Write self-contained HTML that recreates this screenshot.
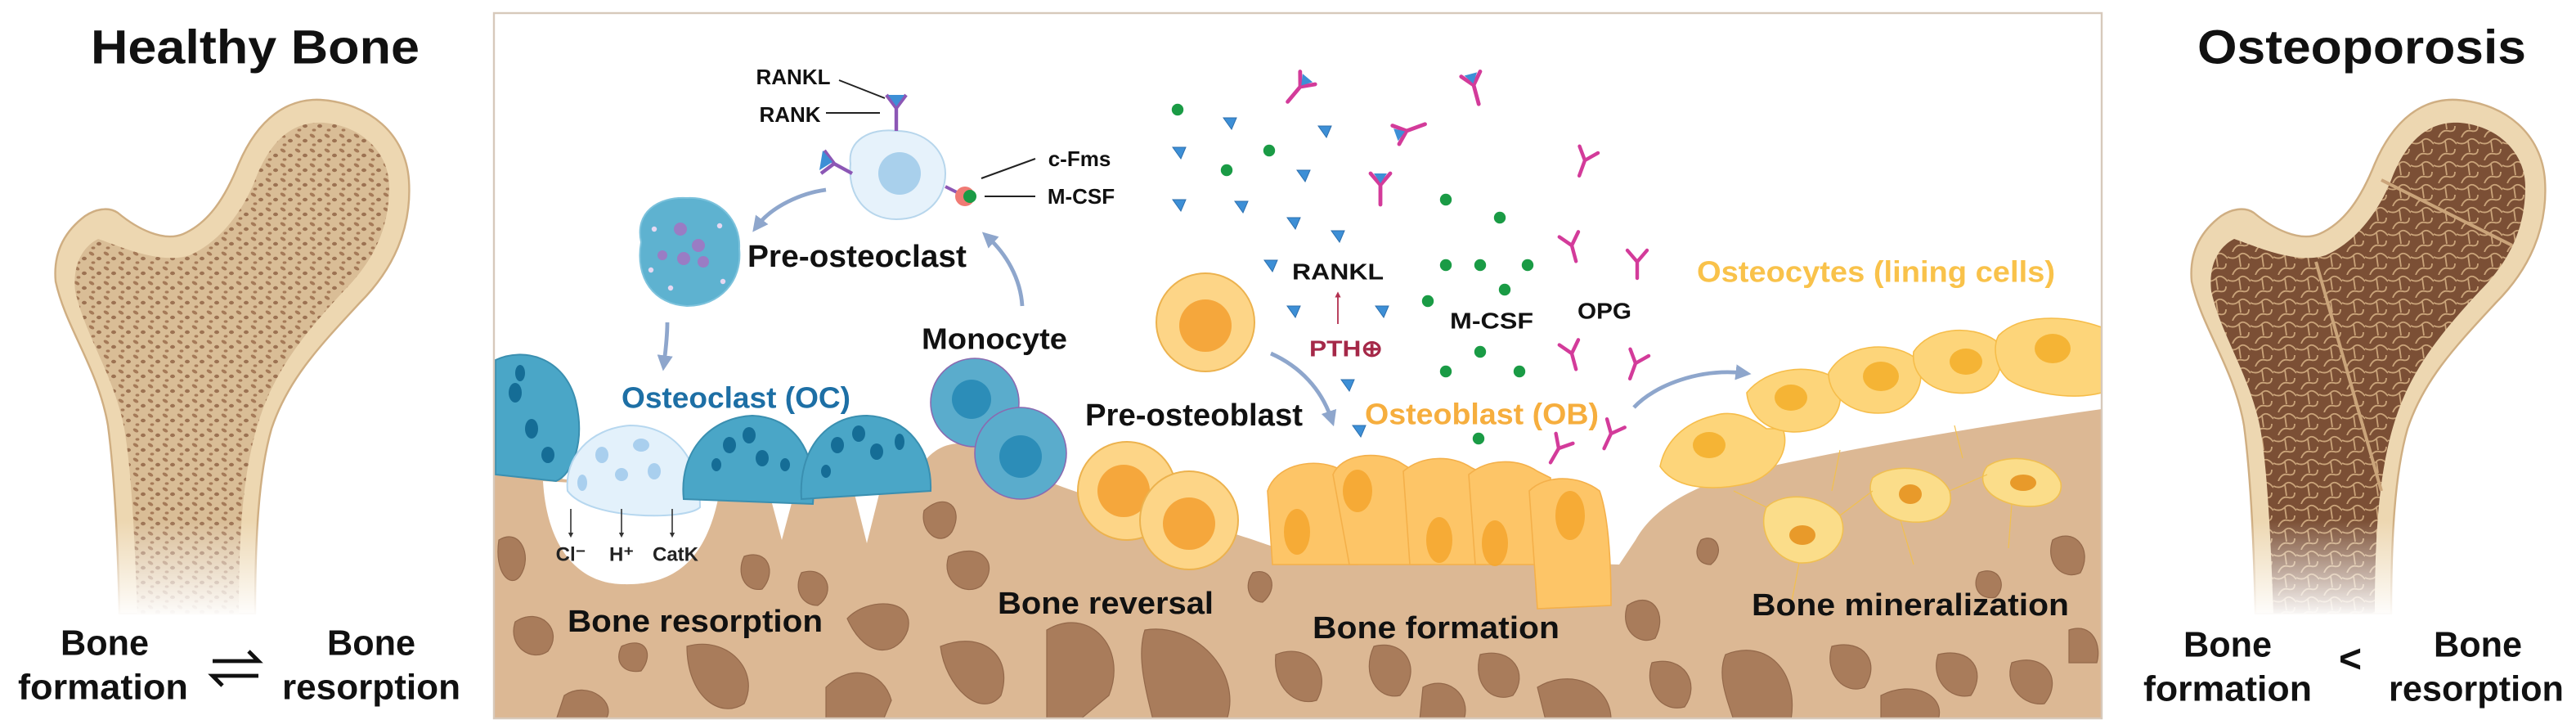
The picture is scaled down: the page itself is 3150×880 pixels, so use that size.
<!DOCTYPE html>
<html><head><meta charset="utf-8"><style>
html,body{margin:0;padding:0;background:#fff;}
svg{display:block;}
text{font-family:"Liberation Sans Narrow","Liberation Sans",sans-serif;font-weight:bold;dominant-baseline:central;text-anchor:middle;}
</style></head><body>
<svg width="3150" height="880" viewBox="0 0 1575 440" xmlns="http://www.w3.org/2000/svg">
<defs>
<pattern id="trab" width="9" height="9" patternUnits="userSpaceOnUse">
<rect width="9" height="9" fill="#d9bd96"/>
<ellipse cx="2" cy="2" rx="1.8" ry="1" fill="#a57a58" transform="rotate(30 2 2)"/>
<ellipse cx="6.5" cy="5" rx="1.5" ry="1.1" fill="#9c7252"/>
<ellipse cx="3" cy="7.5" rx="1.2" ry="0.8" fill="#a57a58"/>
</pattern>
<pattern id="poro" width="14" height="14" patternUnits="userSpaceOnUse">
<rect width="14" height="14" fill="#7b4f35"/>
<path d="M0 3 Q4 5 7 2 T14 4 M3 14 Q5 9 9 10 T13 7 M7 2 L8 9" stroke="#caa47a" stroke-width="0.9" fill="none"/>
</pattern>
<linearGradient id="fade" x1="0" y1="0" x2="0" y2="1">
<stop offset="0" stop-color="#fff" stop-opacity="0"/><stop offset="1" stop-color="#fff" stop-opacity="1"/>
</linearGradient>
<marker id="ah" viewBox="0 0 10 10" refX="5" refY="5" markerWidth="4" markerHeight="4" orient="auto"><path d="M0 0 L10 5 L0 10 Z" fill="#8ea6cc"/></marker>
<marker id="ahr" viewBox="0 0 10 10" refX="5" refY="5" markerWidth="4" markerHeight="4" orient="auto"><path d="M0 0 L10 5 L0 10 Z" fill="#b2304f"/></marker>
<marker id="ahk" viewBox="0 0 10 10" refX="5" refY="5" markerWidth="4" markerHeight="4" orient="auto"><path d="M0 0 L10 5 L0 10 Z" fill="#333"/></marker>
<g id="tri"><path d="M-4 -3 L4 -3 L1 4 Z" fill="#3d8fd6" stroke="#2c6fae" stroke-width="0.5"/></g>
<g id="dot"><circle r="3.6" fill="#1a9b45"/></g>
<g id="ypk"><path d="M0 10 L0 0 M0 0 L-6 -7 M0 0 L6 -7" stroke="#d33b9a" stroke-width="2.2" fill="none" stroke-linecap="round"/></g>
<g id="ybound"><path d="M0 12 L0 0 M0 0 L-6 -7 M0 0 L6 -7" stroke="#d33b9a" stroke-width="2.4" fill="none" stroke-linecap="round"/><path d="M-4 -7 L4 -7 L0 -1 Z" fill="#3d8fd6"/></g>
</defs>

<!-- LEFT: Healthy bone -->
<text x="156" y="29" font-size="29" textLength="201" lengthAdjust="spacingAndGlyphs" fill="#111">Healthy Bone</text>
<g>
<path d="M73,375 C72,330 70,290 66,260 C60,225 40,200 34,172 C32,150 44,138 52,132 C58,128 66,126 72,130 C84,140 100,148 112,143 C128,136 138,120 146,100 C158,72 176,60 196,61 C226,63 248,82 250,110 C252,140 240,165 220,185 C195,212 176,232 166,262 C158,290 156,330 156,375 Z" fill="#edd7b1" stroke="#cfae82" stroke-width="1.2"/>
<path d="M84,375 C82,320 80,285 76,262 C70,230 52,205 46,178 C44,160 52,150 60,146 C72,150 98,162 116,156 C134,148 148,130 156,110 C166,84 180,74 198,75 C222,77 238,94 238,114 C238,140 228,160 210,178 C186,204 168,226 158,258 C148,290 146,330 146,375 Z" fill="url(#trab)"/>
<rect x="20" y="318" width="250" height="60" fill="url(#fade)"/>
</g>
<text x="64" y="393" font-size="22" textLength="54" lengthAdjust="spacingAndGlyphs" fill="#111">Bone</text>
<text x="63" y="420" font-size="22" textLength="104" lengthAdjust="spacingAndGlyphs" fill="#111">formation</text>
<text x="227" y="393" font-size="22" textLength="54" lengthAdjust="spacingAndGlyphs" fill="#111">Bone</text>
<text x="227" y="420" font-size="22" textLength="109" lengthAdjust="spacingAndGlyphs" fill="#111">resorption</text>
<path d="M130 404 L158 404 L152 398 M158 413 L130 413 L136 419" stroke="#111" stroke-width="2.4" fill="none"/>

<!-- RIGHT: Osteoporosis -->
<text x="1444" y="29" font-size="29" textLength="201" lengthAdjust="spacingAndGlyphs" fill="#111">Osteoporosis</text>
<g transform="translate(1306,0)">
<path d="M73,375 C72,330 70,290 66,260 C60,225 40,200 34,172 C32,150 44,138 52,132 C58,128 66,126 72,130 C84,140 100,148 112,143 C128,136 138,120 146,100 C158,72 176,60 196,61 C226,63 248,82 250,110 C252,140 240,165 220,185 C195,212 176,232 166,262 C158,290 156,330 156,375 Z" fill="#edd7b1" stroke="#cfae82" stroke-width="1.2"/>
<path d="M84,375 C82,320 80,285 76,262 C70,230 52,205 46,178 C44,160 52,150 60,146 C72,150 98,162 116,156 C134,148 148,130 156,110 C166,84 180,74 198,75 C222,77 238,94 238,114 C238,140 228,160 210,178 C186,204 168,226 158,258 C148,290 146,330 146,375 Z" fill="url(#poro)"/>
<path d="M150 110 L230 150 M110 160 L150 300" stroke="#caa47a" stroke-width="2" fill="none"/>
<rect x="20" y="318" width="250" height="60" fill="url(#fade)"/>
</g>
<text x="1362" y="394" font-size="22" textLength="54" lengthAdjust="spacingAndGlyphs" fill="#111">Bone</text>
<text x="1362" y="421" font-size="22" textLength="103" lengthAdjust="spacingAndGlyphs" fill="#111">formation</text>
<text x="1515" y="394" font-size="22" textLength="54" lengthAdjust="spacingAndGlyphs" fill="#111">Bone</text>
<text x="1514" y="421" font-size="22" textLength="107" lengthAdjust="spacingAndGlyphs" fill="#111">resorption</text>
<text x="1437" y="403" font-size="24" fill="#111">&lt;</text>

<!-- MIDDLE PANEL -->
<svg x="302" y="8" width="983" height="431" viewBox="302 8 983 431" overflow="hidden">
<rect x="302" y="8" width="983" height="431" fill="#fff"/>
<!-- bone ground -->
<path d="M302,289 L340,292 C360,296 400,294 430,298 L470,300 L478,330 L486,300 L522,300 L530,332 L538,300 L560,290 C570,270 590,262 620,285 C650,300 700,315 740,322 C770,330 780,336 800,340 L990,345 L1000,330 C1010,312 1030,300 1060,290 C1120,276 1200,262 1285,250 L1285,440 L302,440 Z" fill="#dcb894"/>
<!-- resorption pit -->
<path d="M332,294 C334,330 350,356 380,357 C410,358 432,345 440,300 Z" fill="#fff"/>
<!-- bone blobs -->
<g fill="#a97c5b" stroke="#93684a" stroke-width="0.6">
<path d="M305,330 C318,322 326,340 318,352 C312,360 302,350 305,330Z"/>
<path d="M315,380 C330,370 345,385 335,398 C325,405 310,395 315,380Z"/>
<path d="M345,425 C360,415 378,430 370,440 L340,440 Z"/>
<path d="M380,395 C395,388 400,400 392,410 C382,412 375,405 380,395Z"/>
<path d="M420,395 C445,388 465,410 455,430 C440,440 420,425 420,395Z"/>
<path d="M455,340 C470,335 475,350 466,360 C455,362 450,350 455,340Z"/>
<path d="M490,350 C505,345 512,362 500,370 C490,370 485,360 490,350Z"/>
<path d="M505,420 C520,405 540,410 545,428 L540,440 L505,440 Z"/>
<path d="M518,378 C530,365 560,365 555,385 C550,400 530,405 518,378Z"/>
<path d="M565,312 C578,300 590,310 582,325 C575,335 562,325 565,312Z"/>
<path d="M580,340 C600,330 612,345 600,358 C590,365 575,355 580,340Z"/>
<path d="M575,395 C600,385 620,400 612,425 C600,440 578,420 575,395Z"/>
<path d="M640,385 C665,370 690,395 678,425 L660,440 L640,440 Z"/>
<path d="M700,385 C730,380 760,410 750,440 L705,440 C700,420 695,400 700,385Z"/>
<path d="M766,350 C778,346 782,360 772,368 C764,368 760,358 766,350Z"/>
<path d="M780,400 C800,392 815,410 805,428 C792,432 778,420 780,400Z"/>
<path d="M840,395 C860,390 870,410 856,425 C842,428 832,412 840,395Z"/>
<path d="M870,420 C885,412 900,425 895,440 L868,440 Z"/>
<path d="M905,400 C925,395 935,412 925,425 C912,430 900,418 905,400Z"/>
<path d="M940,420 C960,408 985,418 985,440 L945,440 Z"/>
<path d="M995,370 C1010,360 1020,375 1012,390 C1002,395 990,385 995,370Z"/>
<path d="M1010,405 C1030,400 1040,418 1030,432 C1015,436 1005,420 1010,405Z"/>
<path d="M1040,330 C1050,325 1055,338 1046,345 C1038,345 1035,338 1040,330Z"/>
<path d="M1055,400 C1080,390 1100,410 1095,440 L1060,440 C1055,425 1050,412 1055,400Z"/>
<path d="M1120,395 C1140,390 1150,405 1140,420 C1128,425 1115,412 1120,395Z"/>
<path d="M1150,425 C1170,415 1190,425 1185,440 L1150,440 Z"/>
<path d="M1185,400 C1205,395 1215,410 1205,425 C1192,428 1180,415 1185,400Z"/>
<path d="M1230,405 C1250,398 1262,415 1250,430 C1238,432 1225,420 1230,405Z"/>
<path d="M1255,330 C1268,322 1280,335 1272,350 C1262,355 1250,345 1255,330Z"/>
<path d="M1265,385 C1280,380 1285,395 1282,405 L1265,405 Z"/>
<path d="M1210,350 C1222,345 1228,358 1220,365 C1210,367 1205,358 1210,350Z"/>
</g>

<!-- osteocyte layer (mineralization) -->
<g fill="#fde08a" stroke="#f2c04e" stroke-width="0.8" opacity="0.95">
<path d="M1080,310 C1090,300 1115,302 1125,315 C1132,330 1118,345 1100,344 C1085,342 1074,325 1080,310Z"/>
<path d="M1145,292 C1158,282 1185,285 1192,300 C1196,315 1180,322 1162,318 C1148,314 1140,302 1145,292Z"/>
<path d="M1215,285 C1228,276 1255,280 1260,295 C1262,308 1245,312 1230,308 C1215,304 1208,294 1215,285Z"/>
</g>
<g fill="#e89a2a"><ellipse cx="1102" cy="327" rx="8" ry="6"/><ellipse cx="1168" cy="302" rx="7" ry="6"/><ellipse cx="1237" cy="295" rx="8" ry="5"/></g>
<g stroke="#f2c04e" stroke-width="0.6" fill="none">
<path d="M1100 344 L1095 370 M1125 315 L1145 300 M1192 300 L1215 290 M1162 318 L1170 345 M1230 308 L1228 335 M1080 310 L1060 300 M1120 300 L1125 275 M1200 280 L1195 260"/>
</g>
<!-- lining cells -->
<g fill="#fdd57a" stroke="#f6bd4a" stroke-width="0.8">
<path d="M1015,285 C1018,270 1030,258 1048,254 C1060,250 1072,256 1080,262 L1090,262 C1095,275 1085,290 1070,295 C1050,300 1025,300 1015,285Z"/>
<path d="M1068,240 C1080,225 1105,222 1120,230 C1130,240 1125,258 1110,262 C1090,268 1070,260 1068,240Z"/>
<path d="M1118,228 C1128,210 1155,208 1170,218 C1180,230 1172,248 1155,252 C1135,255 1118,244 1118,228Z"/>
<path d="M1170,215 C1180,200 1205,198 1220,208 C1228,220 1222,238 1205,240 C1185,242 1168,232 1170,215Z"/>
<path d="M1222,205 C1235,192 1262,192 1285,200 L1285,240 C1265,245 1240,240 1228,232 C1220,225 1218,212 1222,205Z"/>
</g>
<g fill="#f5b435"><ellipse cx="1045" cy="272" rx="10" ry="8"/><ellipse cx="1095" cy="243" rx="10" ry="8"/><ellipse cx="1150" cy="230" rx="11" ry="9"/><ellipse cx="1202" cy="221" rx="10" ry="8"/><ellipse cx="1255" cy="213" rx="11" ry="9"/></g>

<!-- osteoblasts row -->
<g fill="#fdc567" stroke="#f4b04a" stroke-width="0.8">
<path d="M775,300 C780,285 800,280 815,285 L828,290 L830,345 L778,345 Z"/>
<path d="M815,290 C820,278 840,275 855,282 L868,290 L868,345 L825,345 Z"/>
<path d="M858,288 C870,278 888,278 900,286 L908,290 L908,345 L862,345 Z"/>
<path d="M898,290 C910,280 928,280 940,288 L948,292 L948,345 L902,345 Z"/>
<path d="M935,300 C945,290 965,290 978,300 C985,320 985,360 985,370 L940,372 Z"/>
</g>
<g fill="#f5a62e" opacity="0.85">
<ellipse cx="793" cy="325" rx="8" ry="14"/><ellipse cx="830" cy="300" rx="9" ry="13"/><ellipse cx="880" cy="330" rx="8" ry="14"/><ellipse cx="914" cy="332" rx="8" ry="14"/><ellipse cx="960" cy="315" rx="9" ry="15"/>
</g>

<!-- pre-osteoblasts -->
<g stroke="#ecb24e" stroke-width="1">
<circle cx="737" cy="197" r="30" fill="#fdd587"/><circle cx="737" cy="199" r="16" fill="#f5a73c" stroke="none"/>
<circle cx="689" cy="300" r="30" fill="#fdd587"/><circle cx="687" cy="300" r="16" fill="#f5a73c" stroke="none"/>
<circle cx="727" cy="318" r="30" fill="#fdd587"/><circle cx="727" cy="320" r="16" fill="#f5a73c" stroke="none"/>
</g>

<!-- osteoclasts -->
<g>
<path d="M303,290 L303,220 C320,212 345,218 352,245 C358,270 350,290 340,294 Z" fill="#4aa6c7" stroke="#3a8fb0"/>
<path d="M347,300 C345,280 360,262 385,260 C410,260 428,278 428,310 C420,318 360,318 347,300Z" fill="#e3f1fb" stroke="#b6d7ef"/>
<path d="M418,305 C415,275 435,255 460,254 C485,255 500,275 497,308 Z" fill="#4aa6c7" stroke="#3a8fb0"/>
<path d="M490,305 C488,275 505,254 530,254 C555,255 570,275 569,300 Z" fill="#4aa6c7" stroke="#3a8fb0"/>
</g>
<g fill="#156d96">
<ellipse cx="315" cy="240" rx="4" ry="6"/><ellipse cx="325" cy="262" rx="4" ry="6"/><ellipse cx="335" cy="278" rx="4" ry="5"/><ellipse cx="318" cy="228" rx="3" ry="5"/>
<ellipse cx="446" cy="272" rx="4" ry="5"/><ellipse cx="458" cy="266" rx="4" ry="5"/><ellipse cx="466" cy="280" rx="4" ry="5"/><ellipse cx="480" cy="284" rx="3" ry="4"/><ellipse cx="438" cy="284" rx="3" ry="4"/>
<ellipse cx="512" cy="272" rx="4" ry="5"/><ellipse cx="525" cy="265" rx="4" ry="5"/><ellipse cx="536" cy="276" rx="4" ry="5"/><ellipse cx="550" cy="270" rx="3" ry="5"/><ellipse cx="505" cy="288" rx="3" ry="4"/>
</g>
<g fill="#a9cfee"><ellipse cx="368" cy="278" rx="4" ry="5"/><ellipse cx="392" cy="272" rx="5" ry="4"/><ellipse cx="400" cy="288" rx="4" ry="5"/><ellipse cx="380" cy="290" rx="4" ry="4"/><ellipse cx="356" cy="295" rx="3" ry="5"/></g>
<!-- ion arrows -->
<g stroke="#333" stroke-width="0.8" marker-end="url(#ahk)"><path d="M349 311 L349 327"/><path d="M380 311 L380 327"/><path d="M411 311 L411 327"/></g>
<text x="349" y="339" font-size="12" font-weight="normal" fill="#222">Cl⁻</text>
<text x="380" y="339" font-size="12" font-weight="normal" fill="#222">H⁺</text>
<text x="413" y="339" font-size="12" font-weight="normal" fill="#222">CatK</text>

<!-- monocyte -->
<circle cx="596" cy="246" r="27" fill="#5aaccc" stroke="#8a6ab0" stroke-width="0.8"/>
<circle cx="624" cy="277" r="28" fill="#5aaccc" stroke="#8a6ab0" stroke-width="0.8"/>
<circle cx="594" cy="244" r="12" fill="#2c8db8"/><circle cx="624" cy="279" r="13" fill="#2c8db8"/>

<!-- pre-osteoclast -->
<path d="M392,148 C388,130 402,120 420,121 C440,120 453,135 452,152 C454,172 440,187 420,187 C400,186 388,170 392,148Z" fill="#5eb2d0" stroke="#7cc2dc"/>
<g fill="#9a7cc4"><circle cx="416" cy="140" r="4"/><circle cx="427" cy="150" r="4"/><circle cx="418" cy="158" r="4"/><circle cx="430" cy="160" r="3.5"/><circle cx="405" cy="156" r="3"/></g>
<g fill="#e6d8f2"><circle cx="400" cy="140" r="1.6"/><circle cx="440" cy="138" r="1.6"/><circle cx="442" cy="172" r="1.6"/><circle cx="410" cy="176" r="1.6"/><circle cx="398" cy="165" r="1.6"/></g>

<!-- top cell with receptors -->
<path d="M520,100 C518,86 532,78 548,80 C566,80 578,92 578,106 C578,122 566,134 548,134 C530,134 518,120 520,100Z" fill="#e6f2fb" stroke="#b7d6ec"/>
<circle cx="550" cy="106" r="13" fill="#a9d0ec"/>
<path d="M548 80 L548 66 L542 58 M548 66 L554 58" stroke="#8c57b5" stroke-width="2.2" fill="none"/>
<path d="M543 58 L553 58 L548 65Z" fill="#3d8fd6"/>
<path d="M521 106 L510 100 L504 92 M510 100 L502 106" stroke="#8c57b5" stroke-width="2.2" fill="none"/>
<path d="M503 92 L501 104 L509 99Z" fill="#3d8fd6"/>
<path d="M578 114 L586 118" stroke="#8c57b5" stroke-width="2"/>
<circle cx="590" cy="120" r="6" fill="#f07a74"/><circle cx="593" cy="120" r="4" fill="#1a9b45"/>
<path d="M513 49 L541 60 M505 69 L538 69 M600 109 L633 97 M602 120 L633 120" stroke="#222" stroke-width="1"/>
<text x="485" y="47" font-size="13" fill="#111">RANKL</text>
<text x="483" y="70" font-size="13" fill="#111">RANK</text>
<text x="660" y="97" font-size="13" fill="#111">c-Fms</text>
<text x="661" y="120" font-size="13" fill="#111">M-CSF</text>

<!-- arrows -->
<g stroke="#8ea6cc" stroke-width="2.4" fill="none" marker-end="url(#ah)">
<path d="M505 116 C490 118 472 126 463 138"/>
<path d="M408 197 C408 205 407 214 406 222"/>
<path d="M625 187 C624 170 615 155 604 145"/>
<path d="M777 216 C795 224 808 238 814 256"/>
<path d="M999 249 C1012 235 1040 225 1066 228"/>
</g>
<path d="M818 198 L818 180" stroke="#b2304f" stroke-width="0.9" marker-end="url(#ahr)"/>

<!-- ligands -->
<use href="#dot" x="720" y="67"/><use href="#dot" x="776" y="92"/><use href="#dot" x="750" y="104"/><use href="#dot" x="884" y="122"/><use href="#dot" x="917" y="133"/><use href="#dot" x="884" y="162"/><use href="#dot" x="905" y="162"/><use href="#dot" x="934" y="162"/><use href="#dot" x="920" y="177"/><use href="#dot" x="873" y="184"/><use href="#dot" x="905" y="215"/><use href="#dot" x="884" y="227"/><use href="#dot" x="929" y="227"/><use href="#dot" x="904" y="268"/>
<use href="#tri" x="752" y="75"/><use href="#tri" x="721" y="93"/><use href="#tri" x="810" y="80"/><use href="#tri" x="797" y="107"/><use href="#tri" x="721" y="125"/><use href="#tri" x="759" y="126"/><use href="#tri" x="791" y="136"/><use href="#tri" x="818" y="144"/><use href="#tri" x="777" y="162"/><use href="#tri" x="791" y="190"/><use href="#tri" x="845" y="190"/><use href="#tri" x="824" y="235"/><use href="#tri" x="831" y="263"/>
<use href="#ybound" x="795" y="53" transform="rotate(40 795 53)"/><use href="#ybound" x="901" y="52" transform="rotate(-15 901 52)"/><use href="#ybound" x="860" y="80" transform="rotate(-110 860 80)"/><use href="#ybound" x="844" y="113"/>
<use href="#ypk" x="969" y="98" transform="rotate(20 969 98)"/><use href="#ypk" x="961" y="150" transform="rotate(-15 961 150)"/><use href="#ypk" x="1001" y="160"/><use href="#ypk" x="961" y="216" transform="rotate(-15 961 216)"/><use href="#ypk" x="1000" y="222" transform="rotate(20 1000 222)"/><use href="#ypk" x="953" y="274" transform="rotate(30 953 274)"/><use href="#ypk" x="985" y="265" transform="rotate(25 985 265)"/>

<!-- labels -->
<text x="524" y="157" font-size="19" textLength="134" lengthAdjust="spacingAndGlyphs" fill="#111">Pre-osteoclast</text>
<text x="608" y="207" font-size="18" textLength="89" lengthAdjust="spacingAndGlyphs" fill="#111">Monocyte</text>
<text x="450" y="243" font-size="18" textLength="140" lengthAdjust="spacingAndGlyphs" fill="#1d6fa5">Osteoclast (OC)</text>
<text x="425" y="380" font-size="19" textLength="156" lengthAdjust="spacingAndGlyphs" fill="#111">Bone resorption</text>
<text x="676" y="369" font-size="19" textLength="132" lengthAdjust="spacingAndGlyphs" fill="#111">Bone reversal</text>
<text x="730" y="254" font-size="19" textLength="133" lengthAdjust="spacingAndGlyphs" fill="#111">Pre-osteoblast</text>
<text x="878" y="384" font-size="19" textLength="151" lengthAdjust="spacingAndGlyphs" fill="#111">Bone formation</text>
<text x="1168" y="370" font-size="19" textLength="194" lengthAdjust="spacingAndGlyphs" fill="#111">Bone mineralization</text>
<text x="906" y="253" font-size="18" textLength="143" lengthAdjust="spacingAndGlyphs" fill="#f6ae3e">Osteoblast (OB)</text>
<text x="1147" y="166" font-size="18" textLength="219" lengthAdjust="spacingAndGlyphs" fill="#f9c24a">Osteocytes (lining cells)</text>
<text x="818" y="166" font-size="14" textLength="56" lengthAdjust="spacingAndGlyphs" fill="#111">RANKL</text>
<text x="823" y="213" font-size="14" textLength="45" lengthAdjust="spacingAndGlyphs" fill="#a52848">PTH⊕</text>
<text x="912" y="196" font-size="14" textLength="51" lengthAdjust="spacingAndGlyphs" fill="#111">M-CSF</text>
<text x="981" y="190" font-size="14" textLength="33" lengthAdjust="spacingAndGlyphs" fill="#111">OPG</text>
</svg>
<rect x="302" y="8" width="983" height="431" fill="none" stroke="#d7c9bb" stroke-width="1.2"/>
</svg>
</body></html>
